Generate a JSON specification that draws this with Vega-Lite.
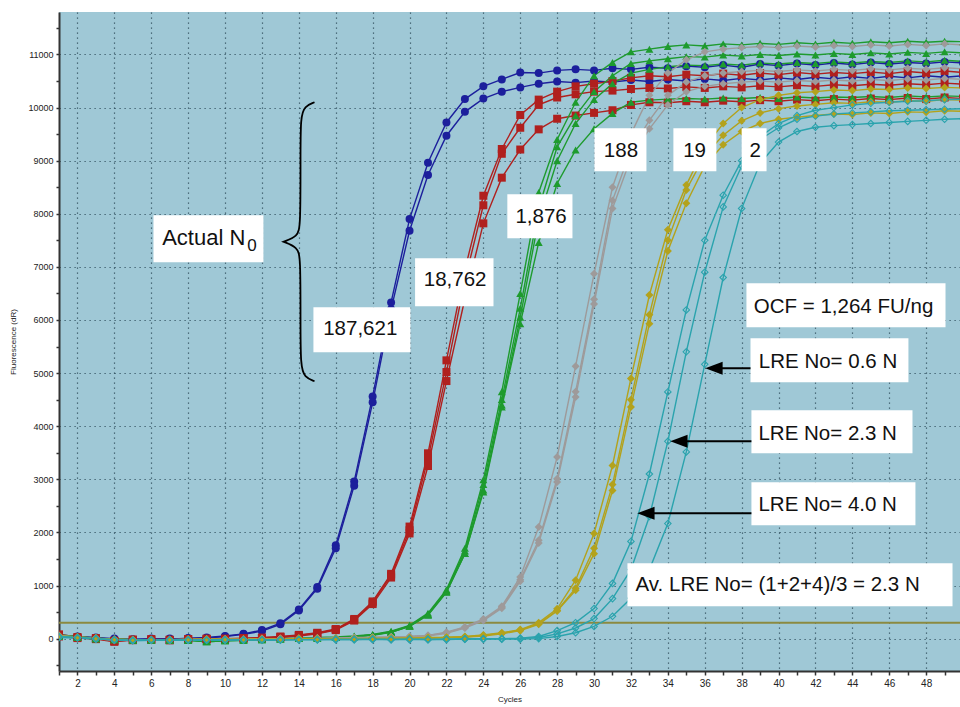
{
"$schema": "https://vega.github.io/schema/vega-lite/v6.json",
"width": 901, "height": 659,
"autosize": {"type": "none"},
"padding": {"left": 59, "top": 12, "right": 0, "bottom": 36},
"background": "white",
"config": {"view": {"fill": "#9fc8d6", "stroke": null}, "font": "Liberation Sans"},
"datasets": {
"curves": [
{"s":"B1","c":1,"v":70},{"s":"B1","c":2,"v":40},{"s":"B1","c":3,"v":20},{"s":"B1","c":4,"v":0},{"s":"B1","c":5,"v":-10},{"s":"B1","c":6,"v":0},{"s":"B1","c":7,"v":-10},{"s":"B1","c":8,"v":10},{"s":"B1","c":9,"v":20},{"s":"B1","c":10,"v":50},{"s":"B1","c":11,"v":90},{"s":"B1","c":12,"v":160},{"s":"B1","c":13,"v":290},{"s":"B1","c":14,"v":550},{"s":"B1","c":15,"v":970},{"s":"B1","c":16,"v":1760},{"s":"B1","c":17,"v":2960},{"s":"B1","c":18,"v":4560},{"s":"B1","c":19,"v":6330},{"s":"B1","c":20,"v":7900},{"s":"B1","c":21,"v":8960},{"s":"B1","c":22,"v":9720},{"s":"B1","c":23,"v":10160},{"s":"B1","c":24,"v":10400},{"s":"B1","c":25,"v":10530},{"s":"B1","c":26,"v":10660},{"s":"B1","c":27,"v":10650},{"s":"B1","c":28,"v":10700},{"s":"B1","c":29,"v":10720},{"s":"B1","c":30,"v":10700},{"s":"B1","c":31,"v":10740},{"s":"B1","c":32,"v":10720},{"s":"B1","c":33,"v":10760},{"s":"B1","c":34,"v":10740},{"s":"B1","c":35,"v":10780},{"s":"B1","c":36,"v":10760},{"s":"B1","c":37,"v":10800},{"s":"B1","c":38,"v":10760},{"s":"B1","c":39,"v":10820},{"s":"B1","c":40,"v":10790},{"s":"B1","c":41,"v":10830},{"s":"B1","c":42,"v":10800},{"s":"B1","c":43,"v":10840},{"s":"B1","c":44,"v":10810},{"s":"B1","c":45,"v":10850},{"s":"B1","c":46,"v":10820},{"s":"B1","c":47,"v":10850},{"s":"B1","c":48,"v":10830},{"s":"B1","c":49,"v":10860},{"s":"B1","c":50,"v":10840},
{"s":"B2","c":1,"v":50},{"s":"B2","c":2,"v":30},{"s":"B2","c":3,"v":10},{"s":"B2","c":4,"v":-10},{"s":"B2","c":5,"v":-20},{"s":"B2","c":6,"v":-10},{"s":"B2","c":7,"v":0},{"s":"B2","c":8,"v":0},{"s":"B2","c":9,"v":10},{"s":"B2","c":10,"v":40},{"s":"B2","c":11,"v":80},{"s":"B2","c":12,"v":140},{"s":"B2","c":13,"v":270},{"s":"B2","c":14,"v":530},{"s":"B2","c":15,"v":940},{"s":"B2","c":16,"v":1700},{"s":"B2","c":17,"v":2880},{"s":"B2","c":18,"v":4450},{"s":"B2","c":19,"v":6200},{"s":"B2","c":20,"v":7680},{"s":"B2","c":21,"v":8730},{"s":"B2","c":22,"v":9470},{"s":"B2","c":23,"v":9920},{"s":"B2","c":24,"v":10170},{"s":"B2","c":25,"v":10300},{"s":"B2","c":26,"v":10380},{"s":"B2","c":27,"v":10450},{"s":"B2","c":28,"v":10490},{"s":"B2","c":29,"v":10470},{"s":"B2","c":30,"v":10500},{"s":"B2","c":31,"v":10480},{"s":"B2","c":32,"v":10520},{"s":"B2","c":33,"v":10490},{"s":"B2","c":34,"v":10530},{"s":"B2","c":35,"v":10500},{"s":"B2","c":36,"v":10540},{"s":"B2","c":37,"v":10510},{"s":"B2","c":38,"v":10550},{"s":"B2","c":39,"v":10520},{"s":"B2","c":40,"v":10560},{"s":"B2","c":41,"v":10530},{"s":"B2","c":42,"v":10570},{"s":"B2","c":43,"v":10540},{"s":"B2","c":44,"v":10580},{"s":"B2","c":45,"v":10550},{"s":"B2","c":46,"v":10590},{"s":"B2","c":47,"v":10560},{"s":"B2","c":48,"v":10600},{"s":"B2","c":49,"v":10570},{"s":"B2","c":50,"v":10600},
{"s":"R1","c":1,"v":80},{"s":"R1","c":2,"v":30},{"s":"R1","c":3,"v":10},{"s":"R1","c":4,"v":-40},{"s":"R1","c":5,"v":-20},{"s":"R1","c":6,"v":-20},{"s":"R1","c":7,"v":-30},{"s":"R1","c":8,"v":-10},{"s":"R1","c":9,"v":-10},{"s":"R1","c":10,"v":0},{"s":"R1","c":11,"v":10},{"s":"R1","c":12,"v":20},{"s":"R1","c":13,"v":40},{"s":"R1","c":14,"v":70},{"s":"R1","c":15,"v":110},{"s":"R1","c":16,"v":180},{"s":"R1","c":17,"v":370},{"s":"R1","c":18,"v":700},{"s":"R1","c":19,"v":1220},{"s":"R1","c":20,"v":2110},{"s":"R1","c":21,"v":3490},{"s":"R1","c":22,"v":5240},{"s":"R1","c":23,"v":6950},{"s":"R1","c":24,"v":8340},{"s":"R1","c":25,"v":9220},{"s":"R1","c":26,"v":9860},{"s":"R1","c":27,"v":10150},{"s":"R1","c":28,"v":10300},{"s":"R1","c":29,"v":10400},{"s":"R1","c":30,"v":10450},{"s":"R1","c":31,"v":10500},{"s":"R1","c":32,"v":10560},{"s":"R1","c":33,"v":10600},{"s":"R1","c":34,"v":10580},{"s":"R1","c":35,"v":10620},{"s":"R1","c":36,"v":10600},{"s":"R1","c":37,"v":10640},{"s":"R1","c":38,"v":10610},{"s":"R1","c":39,"v":10650},{"s":"R1","c":40,"v":10620},{"s":"R1","c":41,"v":10660},{"s":"R1","c":42,"v":10630},{"s":"R1","c":43,"v":10660},{"s":"R1","c":44,"v":10640},{"s":"R1","c":45,"v":10670},{"s":"R1","c":46,"v":10640},{"s":"R1","c":47,"v":10680},{"s":"R1","c":48,"v":10650},{"s":"R1","c":49,"v":10690},{"s":"R1","c":50,"v":10660},
{"s":"R2","c":1,"v":60},{"s":"R2","c":2,"v":20},{"s":"R2","c":3,"v":0},{"s":"R2","c":4,"v":-50},{"s":"R2","c":5,"v":-30},{"s":"R2","c":6,"v":-10},{"s":"R2","c":7,"v":-20},{"s":"R2","c":8,"v":-20},{"s":"R2","c":9,"v":0},{"s":"R2","c":10,"v":-10},{"s":"R2","c":11,"v":0},{"s":"R2","c":12,"v":10},{"s":"R2","c":13,"v":30},{"s":"R2","c":14,"v":60},{"s":"R2","c":15,"v":100},{"s":"R2","c":16,"v":170},{"s":"R2","c":17,"v":350},{"s":"R2","c":18,"v":680},{"s":"R2","c":19,"v":1190},{"s":"R2","c":20,"v":2040},{"s":"R2","c":21,"v":3390},{"s":"R2","c":22,"v":5020},{"s":"R2","c":23,"v":6750},{"s":"R2","c":24,"v":8160},{"s":"R2","c":25,"v":9130},{"s":"R2","c":26,"v":9620},{"s":"R2","c":27,"v":10050},{"s":"R2","c":28,"v":10190},{"s":"R2","c":29,"v":10250},{"s":"R2","c":30,"v":10300},{"s":"R2","c":31,"v":10320},{"s":"R2","c":32,"v":10350},{"s":"R2","c":33,"v":10370},{"s":"R2","c":34,"v":10360},{"s":"R2","c":35,"v":10390},{"s":"R2","c":36,"v":10370},{"s":"R2","c":37,"v":10400},{"s":"R2","c":38,"v":10380},{"s":"R2","c":39,"v":10410},{"s":"R2","c":40,"v":10390},{"s":"R2","c":41,"v":10420},{"s":"R2","c":42,"v":10400},{"s":"R2","c":43,"v":10430},{"s":"R2","c":44,"v":10410},{"s":"R2","c":45,"v":10440},{"s":"R2","c":46,"v":10420},{"s":"R2","c":47,"v":10450},{"s":"R2","c":48,"v":10430},{"s":"R2","c":49,"v":10460},{"s":"R2","c":50,"v":10440},
{"s":"R3","c":1,"v":40},{"s":"R3","c":2,"v":10},{"s":"R3","c":3,"v":-10},{"s":"R3","c":4,"v":-60},{"s":"R3","c":5,"v":-20},{"s":"R3","c":6,"v":-20},{"s":"R3","c":7,"v":-30},{"s":"R3","c":8,"v":-10},{"s":"R3","c":9,"v":-20},{"s":"R3","c":10,"v":-10},{"s":"R3","c":11,"v":0},{"s":"R3","c":12,"v":10},{"s":"R3","c":13,"v":20},{"s":"R3","c":14,"v":50},{"s":"R3","c":15,"v":90},{"s":"R3","c":16,"v":160},{"s":"R3","c":17,"v":340},{"s":"R3","c":18,"v":650},{"s":"R3","c":19,"v":1150},{"s":"R3","c":20,"v":1980},{"s":"R3","c":21,"v":3250},{"s":"R3","c":22,"v":4850},{"s":"R3","c":23,"v":6400},{"s":"R3","c":24,"v":7820},{"s":"R3","c":25,"v":8680},{"s":"R3","c":26,"v":9210},{"s":"R3","c":27,"v":9590},{"s":"R3","c":28,"v":9790},{"s":"R3","c":29,"v":9850},{"s":"R3","c":30,"v":9900},{"s":"R3","c":31,"v":9950},{"s":"R3","c":32,"v":10050},{"s":"R3","c":33,"v":10100},{"s":"R3","c":34,"v":10090},{"s":"R3","c":35,"v":10120},{"s":"R3","c":36,"v":10100},{"s":"R3","c":37,"v":10130},{"s":"R3","c":38,"v":10110},{"s":"R3","c":39,"v":10140},{"s":"R3","c":40,"v":10120},{"s":"R3","c":41,"v":10150},{"s":"R3","c":42,"v":10130},{"s":"R3","c":43,"v":10160},{"s":"R3","c":44,"v":10140},{"s":"R3","c":45,"v":10170},{"s":"R3","c":46,"v":10150},{"s":"R3","c":47,"v":10180},{"s":"R3","c":48,"v":10160},{"s":"R3","c":49,"v":10190},{"s":"R3","c":50,"v":10170},
{"s":"G1","c":1,"v":70},{"s":"G1","c":2,"v":40},{"s":"G1","c":3,"v":10},{"s":"G1","c":4,"v":-10},{"s":"G1","c":5,"v":-20},{"s":"G1","c":6,"v":-20},{"s":"G1","c":7,"v":-30},{"s":"G1","c":8,"v":-20},{"s":"G1","c":9,"v":-50},{"s":"G1","c":10,"v":-30},{"s":"G1","c":11,"v":-20},{"s":"G1","c":12,"v":-10},{"s":"G1","c":13,"v":0},{"s":"G1","c":14,"v":10},{"s":"G1","c":15,"v":20},{"s":"G1","c":16,"v":30},{"s":"G1","c":17,"v":50},{"s":"G1","c":18,"v":80},{"s":"G1","c":19,"v":140},{"s":"G1","c":20,"v":250},{"s":"G1","c":21,"v":480},{"s":"G1","c":22,"v":920},{"s":"G1","c":23,"v":1700},{"s":"G1","c":24,"v":2990},{"s":"G1","c":25,"v":4650},{"s":"G1","c":26,"v":6500},{"s":"G1","c":27,"v":8400},{"s":"G1","c":28,"v":9400},{"s":"G1","c":29,"v":10100},{"s":"G1","c":30,"v":10600},{"s":"G1","c":31,"v":10850},{"s":"G1","c":32,"v":11050},{"s":"G1","c":33,"v":11100},{"s":"G1","c":34,"v":11150},{"s":"G1","c":35,"v":11180},{"s":"G1","c":36,"v":11160},{"s":"G1","c":37,"v":11200},{"s":"G1","c":38,"v":11180},{"s":"G1","c":39,"v":11210},{"s":"G1","c":40,"v":11190},{"s":"G1","c":41,"v":11220},{"s":"G1","c":42,"v":11200},{"s":"G1","c":43,"v":11230},{"s":"G1","c":44,"v":11210},{"s":"G1","c":45,"v":11240},{"s":"G1","c":46,"v":11220},{"s":"G1","c":47,"v":11250},{"s":"G1","c":48,"v":11230},{"s":"G1","c":49,"v":11250},{"s":"G1","c":50,"v":11240},
{"s":"G2","c":1,"v":60},{"s":"G2","c":2,"v":30},{"s":"G2","c":3,"v":0},{"s":"G2","c":4,"v":-20},{"s":"G2","c":5,"v":-30},{"s":"G2","c":6,"v":-20},{"s":"G2","c":7,"v":-20},{"s":"G2","c":8,"v":-30},{"s":"G2","c":9,"v":-60},{"s":"G2","c":10,"v":-40},{"s":"G2","c":11,"v":-30},{"s":"G2","c":12,"v":-20},{"s":"G2","c":13,"v":-10},{"s":"G2","c":14,"v":0},{"s":"G2","c":15,"v":10},{"s":"G2","c":16,"v":20},{"s":"G2","c":17,"v":40},{"s":"G2","c":18,"v":70},{"s":"G2","c":19,"v":130},{"s":"G2","c":20,"v":240},{"s":"G2","c":21,"v":460},{"s":"G2","c":22,"v":900},{"s":"G2","c":23,"v":1650},{"s":"G2","c":24,"v":2900},{"s":"G2","c":25,"v":4500},{"s":"G2","c":26,"v":6220},{"s":"G2","c":27,"v":8100},{"s":"G2","c":28,"v":9260},{"s":"G2","c":29,"v":9850},{"s":"G2","c":30,"v":10300},{"s":"G2","c":31,"v":10600},{"s":"G2","c":32,"v":10830},{"s":"G2","c":33,"v":10880},{"s":"G2","c":34,"v":10920},{"s":"G2","c":35,"v":10960},{"s":"G2","c":36,"v":10950},{"s":"G2","c":37,"v":10990},{"s":"G2","c":38,"v":10970},{"s":"G2","c":39,"v":11000},{"s":"G2","c":40,"v":10980},{"s":"G2","c":41,"v":11010},{"s":"G2","c":42,"v":10990},{"s":"G2","c":43,"v":11020},{"s":"G2","c":44,"v":11000},{"s":"G2","c":45,"v":11030},{"s":"G2","c":46,"v":11010},{"s":"G2","c":47,"v":11040},{"s":"G2","c":48,"v":11020},{"s":"G2","c":49,"v":11050},{"s":"G2","c":50,"v":11030},
{"s":"G3","c":1,"v":50},{"s":"G3","c":2,"v":20},{"s":"G3","c":3,"v":0},{"s":"G3","c":4,"v":-10},{"s":"G3","c":5,"v":-20},{"s":"G3","c":6,"v":-30},{"s":"G3","c":7,"v":-20},{"s":"G3","c":8,"v":-20},{"s":"G3","c":9,"v":-50},{"s":"G3","c":10,"v":-30},{"s":"G3","c":11,"v":-20},{"s":"G3","c":12,"v":-10},{"s":"G3","c":13,"v":-10},{"s":"G3","c":14,"v":0},{"s":"G3","c":15,"v":10},{"s":"G3","c":16,"v":20},{"s":"G3","c":17,"v":40},{"s":"G3","c":18,"v":70},{"s":"G3","c":19,"v":120},{"s":"G3","c":20,"v":230},{"s":"G3","c":21,"v":450},{"s":"G3","c":22,"v":880},{"s":"G3","c":23,"v":1600},{"s":"G3","c":24,"v":2800},{"s":"G3","c":25,"v":4400},{"s":"G3","c":26,"v":6050},{"s":"G3","c":27,"v":7900},{"s":"G3","c":28,"v":9000},{"s":"G3","c":29,"v":9700},{"s":"G3","c":30,"v":10150},{"s":"G3","c":31,"v":10450},{"s":"G3","c":32,"v":10650},{"s":"G3","c":33,"v":10720},{"s":"G3","c":34,"v":10770},{"s":"G3","c":35,"v":10800},{"s":"G3","c":36,"v":10790},{"s":"G3","c":37,"v":10820},{"s":"G3","c":38,"v":10800},{"s":"G3","c":39,"v":10840},{"s":"G3","c":40,"v":10820},{"s":"G3","c":41,"v":10850},{"s":"G3","c":42,"v":10830},{"s":"G3","c":43,"v":10860},{"s":"G3","c":44,"v":10840},{"s":"G3","c":45,"v":10870},{"s":"G3","c":46,"v":10850},{"s":"G3","c":47,"v":10880},{"s":"G3","c":48,"v":10860},{"s":"G3","c":49,"v":10890},{"s":"G3","c":50,"v":10870},
{"s":"G4","c":1,"v":40},{"s":"G4","c":2,"v":20},{"s":"G4","c":3,"v":-10},{"s":"G4","c":4,"v":-20},{"s":"G4","c":5,"v":-30},{"s":"G4","c":6,"v":-20},{"s":"G4","c":7,"v":-30},{"s":"G4","c":8,"v":-30},{"s":"G4","c":9,"v":-60},{"s":"G4","c":10,"v":-40},{"s":"G4","c":11,"v":-30},{"s":"G4","c":12,"v":-20},{"s":"G4","c":13,"v":-10},{"s":"G4","c":14,"v":0},{"s":"G4","c":15,"v":0},{"s":"G4","c":16,"v":20},{"s":"G4","c":17,"v":30},{"s":"G4","c":18,"v":60},{"s":"G4","c":19,"v":120},{"s":"G4","c":20,"v":230},{"s":"G4","c":21,"v":440},{"s":"G4","c":22,"v":870},{"s":"G4","c":23,"v":1600},{"s":"G4","c":24,"v":2760},{"s":"G4","c":25,"v":4360},{"s":"G4","c":26,"v":5930},{"s":"G4","c":27,"v":7460},{"s":"G4","c":28,"v":8570},{"s":"G4","c":29,"v":9200},{"s":"G4","c":30,"v":9600},{"s":"G4","c":31,"v":9890},{"s":"G4","c":32,"v":10100},{"s":"G4","c":33,"v":10140},{"s":"G4","c":34,"v":10160},{"s":"G4","c":35,"v":10170},{"s":"G4","c":36,"v":10160},{"s":"G4","c":37,"v":10180},{"s":"G4","c":38,"v":10170},{"s":"G4","c":39,"v":10190},{"s":"G4","c":40,"v":10170},{"s":"G4","c":41,"v":10200},{"s":"G4","c":42,"v":10180},{"s":"G4","c":43,"v":10200},{"s":"G4","c":44,"v":10190},{"s":"G4","c":45,"v":10210},{"s":"G4","c":46,"v":10190},{"s":"G4","c":47,"v":10220},{"s":"G4","c":48,"v":10200},{"s":"G4","c":49,"v":10220},{"s":"G4","c":50,"v":10210},
{"s":"A1","c":1,"v":60},{"s":"A1","c":2,"v":30},{"s":"A1","c":3,"v":10},{"s":"A1","c":4,"v":-20},{"s":"A1","c":5,"v":-30},{"s":"A1","c":6,"v":-20},{"s":"A1","c":7,"v":-20},{"s":"A1","c":8,"v":-10},{"s":"A1","c":9,"v":-20},{"s":"A1","c":10,"v":-10},{"s":"A1","c":11,"v":-10},{"s":"A1","c":12,"v":0},{"s":"A1","c":13,"v":0},{"s":"A1","c":14,"v":0},{"s":"A1","c":15,"v":10},{"s":"A1","c":16,"v":10},{"s":"A1","c":17,"v":20},{"s":"A1","c":18,"v":20},{"s":"A1","c":19,"v":30},{"s":"A1","c":20,"v":40},{"s":"A1","c":21,"v":60},{"s":"A1","c":22,"v":120},{"s":"A1","c":23,"v":220},{"s":"A1","c":24,"v":370},{"s":"A1","c":25,"v":610},{"s":"A1","c":26,"v":1160},{"s":"A1","c":27,"v":2100},{"s":"A1","c":28,"v":3420},{"s":"A1","c":29,"v":5130},{"s":"A1","c":30,"v":6870},{"s":"A1","c":31,"v":8500},{"s":"A1","c":32,"v":9500},{"s":"A1","c":33,"v":10230},{"s":"A1","c":34,"v":10650},{"s":"A1","c":35,"v":10900},{"s":"A1","c":36,"v":11050},{"s":"A1","c":37,"v":11100},{"s":"A1","c":38,"v":11130},{"s":"A1","c":39,"v":11150},{"s":"A1","c":40,"v":11130},{"s":"A1","c":41,"v":11160},{"s":"A1","c":42,"v":11140},{"s":"A1","c":43,"v":11170},{"s":"A1","c":44,"v":11150},{"s":"A1","c":45,"v":11180},{"s":"A1","c":46,"v":11160},{"s":"A1","c":47,"v":11190},{"s":"A1","c":48,"v":11170},{"s":"A1","c":49,"v":11200},{"s":"A1","c":50,"v":11180},
{"s":"A2","c":1,"v":50},{"s":"A2","c":2,"v":20},{"s":"A2","c":3,"v":0},{"s":"A2","c":4,"v":-30},{"s":"A2","c":5,"v":-30},{"s":"A2","c":6,"v":-20},{"s":"A2","c":7,"v":-30},{"s":"A2","c":8,"v":-20},{"s":"A2","c":9,"v":-10},{"s":"A2","c":10,"v":-20},{"s":"A2","c":11,"v":-10},{"s":"A2","c":12,"v":-10},{"s":"A2","c":13,"v":0},{"s":"A2","c":14,"v":0},{"s":"A2","c":15,"v":0},{"s":"A2","c":16,"v":10},{"s":"A2","c":17,"v":10},{"s":"A2","c":18,"v":20},{"s":"A2","c":19,"v":30},{"s":"A2","c":20,"v":40},{"s":"A2","c":21,"v":60},{"s":"A2","c":22,"v":110},{"s":"A2","c":23,"v":210},{"s":"A2","c":24,"v":350},{"s":"A2","c":25,"v":590},{"s":"A2","c":26,"v":1110},{"s":"A2","c":27,"v":1850},{"s":"A2","c":28,"v":3010},{"s":"A2","c":29,"v":4650},{"s":"A2","c":30,"v":6390},{"s":"A2","c":31,"v":8250},{"s":"A2","c":32,"v":9200},{"s":"A2","c":33,"v":9760},{"s":"A2","c":34,"v":10230},{"s":"A2","c":35,"v":10480},{"s":"A2","c":36,"v":10600},{"s":"A2","c":37,"v":10650},{"s":"A2","c":38,"v":10680},{"s":"A2","c":39,"v":10700},{"s":"A2","c":40,"v":10680},{"s":"A2","c":41,"v":10710},{"s":"A2","c":42,"v":10690},{"s":"A2","c":43,"v":10720},{"s":"A2","c":44,"v":10700},{"s":"A2","c":45,"v":10730},{"s":"A2","c":46,"v":10710},{"s":"A2","c":47,"v":10740},{"s":"A2","c":48,"v":10720},{"s":"A2","c":49,"v":10750},{"s":"A2","c":50,"v":10730},
{"s":"A3","c":1,"v":40},{"s":"A3","c":2,"v":20},{"s":"A3","c":3,"v":0},{"s":"A3","c":4,"v":-20},{"s":"A3","c":5,"v":-20},{"s":"A3","c":6,"v":-30},{"s":"A3","c":7,"v":-20},{"s":"A3","c":8,"v":-20},{"s":"A3","c":9,"v":-10},{"s":"A3","c":10,"v":-10},{"s":"A3","c":11,"v":-20},{"s":"A3","c":12,"v":-10},{"s":"A3","c":13,"v":-10},{"s":"A3","c":14,"v":0},{"s":"A3","c":15,"v":0},{"s":"A3","c":16,"v":10},{"s":"A3","c":17,"v":10},{"s":"A3","c":18,"v":20},{"s":"A3","c":19,"v":20},{"s":"A3","c":20,"v":30},{"s":"A3","c":21,"v":50},{"s":"A3","c":22,"v":100},{"s":"A3","c":23,"v":200},{"s":"A3","c":24,"v":340},{"s":"A3","c":25,"v":570},{"s":"A3","c":26,"v":1080},{"s":"A3","c":27,"v":1800},{"s":"A3","c":28,"v":2950},{"s":"A3","c":29,"v":4550},{"s":"A3","c":30,"v":6300},{"s":"A3","c":31,"v":8100},{"s":"A3","c":32,"v":9050},{"s":"A3","c":33,"v":9600},{"s":"A3","c":34,"v":10050},{"s":"A3","c":35,"v":10300},{"s":"A3","c":36,"v":10400},{"s":"A3","c":37,"v":10450},{"s":"A3","c":38,"v":10480},{"s":"A3","c":39,"v":10500},{"s":"A3","c":40,"v":10480},{"s":"A3","c":41,"v":10510},{"s":"A3","c":42,"v":10490},{"s":"A3","c":43,"v":10520},{"s":"A3","c":44,"v":10500},{"s":"A3","c":45,"v":10530},{"s":"A3","c":46,"v":10510},{"s":"A3","c":47,"v":10540},{"s":"A3","c":48,"v":10520},{"s":"A3","c":49,"v":10550},{"s":"A3","c":50,"v":10530},
{"s":"O1","c":1,"v":50},{"s":"O1","c":2,"v":30},{"s":"O1","c":3,"v":10},{"s":"O1","c":4,"v":-10},{"s":"O1","c":5,"v":-20},{"s":"O1","c":6,"v":-20},{"s":"O1","c":7,"v":-20},{"s":"O1","c":8,"v":-10},{"s":"O1","c":9,"v":-10},{"s":"O1","c":10,"v":-10},{"s":"O1","c":11,"v":-20},{"s":"O1","c":12,"v":-10},{"s":"O1","c":13,"v":-10},{"s":"O1","c":14,"v":-10},{"s":"O1","c":15,"v":0},{"s":"O1","c":16,"v":0},{"s":"O1","c":17,"v":0},{"s":"O1","c":18,"v":0},{"s":"O1","c":19,"v":10},{"s":"O1","c":20,"v":10},{"s":"O1","c":21,"v":20},{"s":"O1","c":22,"v":20},{"s":"O1","c":23,"v":40},{"s":"O1","c":24,"v":70},{"s":"O1","c":25,"v":110},{"s":"O1","c":26,"v":170},{"s":"O1","c":27,"v":300},{"s":"O1","c":28,"v":560},{"s":"O1","c":29,"v":1100},{"s":"O1","c":30,"v":1980},{"s":"O1","c":31,"v":3260},{"s":"O1","c":32,"v":4900},{"s":"O1","c":33,"v":6470},{"s":"O1","c":34,"v":7700},{"s":"O1","c":35,"v":8540},{"s":"O1","c":36,"v":9250},{"s":"O1","c":37,"v":9700},{"s":"O1","c":38,"v":10000},{"s":"O1","c":39,"v":10150},{"s":"O1","c":40,"v":10230},{"s":"O1","c":41,"v":10280},{"s":"O1","c":42,"v":10300},{"s":"O1","c":43,"v":10330},{"s":"O1","c":44,"v":10320},{"s":"O1","c":45,"v":10350},{"s":"O1","c":46,"v":10340},{"s":"O1","c":47,"v":10370},{"s":"O1","c":48,"v":10360},{"s":"O1","c":49,"v":10380},{"s":"O1","c":50,"v":10370},
{"s":"O2","c":1,"v":40},{"s":"O2","c":2,"v":20},{"s":"O2","c":3,"v":0},{"s":"O2","c":4,"v":-20},{"s":"O2","c":5,"v":-30},{"s":"O2","c":6,"v":-20},{"s":"O2","c":7,"v":-30},{"s":"O2","c":8,"v":-20},{"s":"O2","c":9,"v":-10},{"s":"O2","c":10,"v":-20},{"s":"O2","c":11,"v":-10},{"s":"O2","c":12,"v":-20},{"s":"O2","c":13,"v":-10},{"s":"O2","c":14,"v":0},{"s":"O2","c":15,"v":-10},{"s":"O2","c":16,"v":0},{"s":"O2","c":17,"v":0},{"s":"O2","c":18,"v":10},{"s":"O2","c":19,"v":0},{"s":"O2","c":20,"v":10},{"s":"O2","c":21,"v":10},{"s":"O2","c":22,"v":20},{"s":"O2","c":23,"v":30},{"s":"O2","c":24,"v":60},{"s":"O2","c":25,"v":100},{"s":"O2","c":26,"v":160},{"s":"O2","c":27,"v":280},{"s":"O2","c":28,"v":530},{"s":"O2","c":29,"v":950},{"s":"O2","c":30,"v":1700},{"s":"O2","c":31,"v":2900},{"s":"O2","c":32,"v":4500},{"s":"O2","c":33,"v":6100},{"s":"O2","c":34,"v":7500},{"s":"O2","c":35,"v":8450},{"s":"O2","c":36,"v":9100},{"s":"O2","c":37,"v":9480},{"s":"O2","c":38,"v":9750},{"s":"O2","c":39,"v":9900},{"s":"O2","c":40,"v":9980},{"s":"O2","c":41,"v":10030},{"s":"O2","c":42,"v":10060},{"s":"O2","c":43,"v":10090},{"s":"O2","c":44,"v":10080},{"s":"O2","c":45,"v":10110},{"s":"O2","c":46,"v":10100},{"s":"O2","c":47,"v":10130},{"s":"O2","c":48,"v":10120},{"s":"O2","c":49,"v":10150},{"s":"O2","c":50,"v":10140},
{"s":"O3","c":1,"v":30},{"s":"O3","c":2,"v":20},{"s":"O3","c":3,"v":0},{"s":"O3","c":4,"v":-10},{"s":"O3","c":5,"v":-20},{"s":"O3","c":6,"v":-30},{"s":"O3","c":7,"v":-20},{"s":"O3","c":8,"v":-20},{"s":"O3","c":9,"v":-20},{"s":"O3","c":10,"v":-10},{"s":"O3","c":11,"v":-20},{"s":"O3","c":12,"v":-10},{"s":"O3","c":13,"v":-20},{"s":"O3","c":14,"v":-10},{"s":"O3","c":15,"v":-10},{"s":"O3","c":16,"v":0},{"s":"O3","c":17,"v":-10},{"s":"O3","c":18,"v":0},{"s":"O3","c":19,"v":0},{"s":"O3","c":20,"v":10},{"s":"O3","c":21,"v":10},{"s":"O3","c":22,"v":20},{"s":"O3","c":23,"v":30},{"s":"O3","c":24,"v":50},{"s":"O3","c":25,"v":90},{"s":"O3","c":26,"v":150},{"s":"O3","c":27,"v":270},{"s":"O3","c":28,"v":520},{"s":"O3","c":29,"v":910},{"s":"O3","c":30,"v":1600},{"s":"O3","c":31,"v":2790},{"s":"O3","c":32,"v":4360},{"s":"O3","c":33,"v":5930},{"s":"O3","c":34,"v":7300},{"s":"O3","c":35,"v":8200},{"s":"O3","c":36,"v":8900},{"s":"O3","c":37,"v":9300},{"s":"O3","c":38,"v":9550},{"s":"O3","c":39,"v":9700},{"s":"O3","c":40,"v":9780},{"s":"O3","c":41,"v":9820},{"s":"O3","c":42,"v":9850},{"s":"O3","c":43,"v":9880},{"s":"O3","c":44,"v":9870},{"s":"O3","c":45,"v":9900},{"s":"O3","c":46,"v":9890},{"s":"O3","c":47,"v":9920},{"s":"O3","c":48,"v":9910},{"s":"O3","c":49,"v":9940},{"s":"O3","c":50,"v":9930},
{"s":"T1","c":1,"v":40},{"s":"T1","c":2,"v":20},{"s":"T1","c":3,"v":0},{"s":"T1","c":4,"v":-20},{"s":"T1","c":5,"v":-30},{"s":"T1","c":6,"v":-30},{"s":"T1","c":7,"v":-20},{"s":"T1","c":8,"v":-30},{"s":"T1","c":9,"v":-20},{"s":"T1","c":10,"v":-20},{"s":"T1","c":11,"v":-20},{"s":"T1","c":12,"v":-20},{"s":"T1","c":13,"v":-20},{"s":"T1","c":14,"v":-20},{"s":"T1","c":15,"v":-20},{"s":"T1","c":16,"v":-10},{"s":"T1","c":17,"v":-10},{"s":"T1","c":18,"v":-10},{"s":"T1","c":19,"v":-10},{"s":"T1","c":20,"v":-10},{"s":"T1","c":21,"v":-10},{"s":"T1","c":22,"v":-10},{"s":"T1","c":23,"v":0},{"s":"T1","c":24,"v":0},{"s":"T1","c":25,"v":0},{"s":"T1","c":26,"v":10},{"s":"T1","c":27,"v":40},{"s":"T1","c":28,"v":150},{"s":"T1","c":29,"v":300},{"s":"T1","c":30,"v":565},{"s":"T1","c":31,"v":1040},{"s":"T1","c":32,"v":1830},{"s":"T1","c":33,"v":3100},{"s":"T1","c":34,"v":4645},{"s":"T1","c":35,"v":6190},{"s":"T1","c":36,"v":7500},{"s":"T1","c":37,"v":8350},{"s":"T1","c":38,"v":9000},{"s":"T1","c":39,"v":9450},{"s":"T1","c":40,"v":9700},{"s":"T1","c":41,"v":9850},{"s":"T1","c":42,"v":9950},{"s":"T1","c":43,"v":10000},{"s":"T1","c":44,"v":10050},{"s":"T1","c":45,"v":10080},{"s":"T1","c":46,"v":10100},{"s":"T1","c":47,"v":10120},{"s":"T1","c":48,"v":10130},{"s":"T1","c":49,"v":10150},{"s":"T1","c":50,"v":10160},
{"s":"T2","c":1,"v":30},{"s":"T2","c":2,"v":20},{"s":"T2","c":3,"v":0},{"s":"T2","c":4,"v":-30},{"s":"T2","c":5,"v":-30},{"s":"T2","c":6,"v":-20},{"s":"T2","c":7,"v":-30},{"s":"T2","c":8,"v":-20},{"s":"T2","c":9,"v":-30},{"s":"T2","c":10,"v":-20},{"s":"T2","c":11,"v":-30},{"s":"T2","c":12,"v":-20},{"s":"T2","c":13,"v":-20},{"s":"T2","c":14,"v":-20},{"s":"T2","c":15,"v":-20},{"s":"T2","c":16,"v":-20},{"s":"T2","c":17,"v":-20},{"s":"T2","c":18,"v":-10},{"s":"T2","c":19,"v":-20},{"s":"T2","c":20,"v":-10},{"s":"T2","c":21,"v":-20},{"s":"T2","c":22,"v":-10},{"s":"T2","c":23,"v":-10},{"s":"T2","c":24,"v":-10},{"s":"T2","c":25,"v":0},{"s":"T2","c":26,"v":0},{"s":"T2","c":27,"v":20},{"s":"T2","c":28,"v":90},{"s":"T2","c":29,"v":200},{"s":"T2","c":30,"v":377},{"s":"T2","c":31,"v":753},{"s":"T2","c":32,"v":1300},{"s":"T2","c":33,"v":2300},{"s":"T2","c":34,"v":3715},{"s":"T2","c":35,"v":5400},{"s":"T2","c":36,"v":6900},{"s":"T2","c":37,"v":8130},{"s":"T2","c":38,"v":8900},{"s":"T2","c":39,"v":9400},{"s":"T2","c":40,"v":9620},{"s":"T2","c":41,"v":9780},{"s":"T2","c":42,"v":9840},{"s":"T2","c":43,"v":9880},{"s":"T2","c":44,"v":9900},{"s":"T2","c":45,"v":9920},{"s":"T2","c":46,"v":9940},{"s":"T2","c":47,"v":9950},{"s":"T2","c":48,"v":9960},{"s":"T2","c":49,"v":9970},{"s":"T2","c":50,"v":9980},
{"s":"T3","c":1,"v":20},{"s":"T3","c":2,"v":10},{"s":"T3","c":3,"v":-10},{"s":"T3","c":4,"v":-20},{"s":"T3","c":5,"v":-40},{"s":"T3","c":6,"v":-30},{"s":"T3","c":7,"v":-30},{"s":"T3","c":8,"v":-30},{"s":"T3","c":9,"v":-30},{"s":"T3","c":10,"v":-30},{"s":"T3","c":11,"v":-20},{"s":"T3","c":12,"v":-30},{"s":"T3","c":13,"v":-30},{"s":"T3","c":14,"v":-20},{"s":"T3","c":15,"v":-20},{"s":"T3","c":16,"v":-20},{"s":"T3","c":17,"v":-20},{"s":"T3","c":18,"v":-20},{"s":"T3","c":19,"v":-20},{"s":"T3","c":20,"v":-20},{"s":"T3","c":21,"v":-20},{"s":"T3","c":22,"v":-20},{"s":"T3","c":23,"v":-10},{"s":"T3","c":24,"v":-10},{"s":"T3","c":25,"v":-10},{"s":"T3","c":26,"v":-10},{"s":"T3","c":27,"v":0},{"s":"T3","c":28,"v":40},{"s":"T3","c":29,"v":110},{"s":"T3","c":30,"v":230},{"s":"T3","c":31,"v":420},{"s":"T3","c":32,"v":760},{"s":"T3","c":33,"v":1300},{"s":"T3","c":34,"v":2166},{"s":"T3","c":35,"v":3515},{"s":"T3","c":36,"v":5166},{"s":"T3","c":37,"v":6800},{"s":"T3","c":38,"v":8100},{"s":"T3","c":39,"v":8950},{"s":"T3","c":40,"v":9350},{"s":"T3","c":41,"v":9550},{"s":"T3","c":42,"v":9630},{"s":"T3","c":43,"v":9660},{"s":"T3","c":44,"v":9680},{"s":"T3","c":45,"v":9700},{"s":"T3","c":46,"v":9720},{"s":"T3","c":47,"v":9740},{"s":"T3","c":48,"v":9760},{"s":"T3","c":49,"v":9780},{"s":"T3","c":50,"v":9790}
],
"boxes": [
{"x1":6.12,"x2":12.08,"y1":7087,"y2":7972},
{"x1":14.79,"x2":20.05,"y1":5392,"y2":6240},
{"x1":20.3,"x2":24.55,"y1":6258,"y2":7162},
{"x1":25.3,"x2":28.83,"y1":7540,"y2":8370},
{"x1":30.02,"x2":32.84,"y1":8800,"y2":9610},
{"x1":34.3,"x2":36.63,"y1":8800,"y2":9610},
{"x1":38.0,"x2":39.35,"y1":8800,"y2":9610},
{"x1":38.26,"x2":49.05,"y1":5863,"y2":6691},
{"x1":38.48,"x2":47.04,"y1":4827,"y2":5655},
{"x1":38.53,"x2":47.26,"y1":3490,"y2":4300},
{"x1":38.53,"x2":47.42,"y1":2134,"y2":2944},
{"x1":31.81,"x2":49.43,"y1":608,"y2":1418}
],
"labels": [
{"t":"187,621","x":15.32,"y":5825},
{"t":"18,762","x":20.77,"y":6748},
{"t":"1,876","x":25.74,"y":7940},
{"t":"188","x":30.53,"y":9190},
{"t":"19","x":34.83,"y":9190},
{"t":"2","x":38.43,"y":9190},
{"t":"OCF = 1,264 FU/ng","x":38.66,"y":6245},
{"t":"LRE No= 0.6 N","x":38.93,"y":5209},
{"t":"LRE No= 2.3 N","x":38.91,"y":3861},
{"t":"LRE No= 4.0 N","x":38.91,"y":2524},
{"t":"Av. LRE No= (1+2+4)/3 = 2.3 N","x":32.25,"y":1004}
],
"arrows": [
{"x1":38.48,"x2":36.5,"y":5090},
{"x1":38.53,"x2":34.6,"y":3716},
{"x1":38.53,"x2":32.81,"y":2360}
],
"brace": [
{"i":1,"x":14.85,"y":10100},{"i":2,"x":14.31,"y":10025},{"i":3,"x":14.09,"y":9836},{"i":4,"x":14.09,"y":9000},{"i":5,"x":14.09,"y":7765},{"i":6,"x":13.93,"y":7576},{"i":7,"x":13.17,"y":7473},{"i":8,"x":13.17,"y":7473},{"i":9,"x":13.17,"y":7473},{"i":10,"x":13.93,"y":7369},{"i":11,"x":14.09,"y":7181},{"i":12,"x":14.09,"y":6000},{"i":13,"x":14.09,"y":5128},{"i":14,"x":14.31,"y":4921},{"i":15,"x":14.85,"y":4846}
]
},
"layer": [
{
"data": {"values": [{"thr": 300}]},
"mark": {"type": "rule", "color": "#8b8a40", "strokeWidth": 2},
"encoding": {
"y": {"field": "thr", "type": "quantitative", "scale": {"domain": [-610, 11800], "nice": false, "zero": false},
"axis": {"title": "Fluorescence (dR)", "tickCount": 200, "values": [-500,0,500,1000,1500,2000,2500,3000,3500,4000,4500,5000,5500,6000,6500,7000,7500,8000,8500,9000,9500,10000,10500,11000,11500],
"labelExpr": "datum.value % 1000 === 0 ? datum.label : ''", "format": "d", "labelOverlap": false,
"grid": true, "gridColor": "#21404f", "gridDash": [1.2, 3.8], "gridWidth": 1.2,
"gridOpacity": {"condition": {"test": "datum.value % 1000 === 0", "value": 0.85}, "value": 0},
"domainColor": "#333333", "domainWidth": 2, "tickColor": "#333333", "tickSize": 3, "tickWidth": 1.5,
"labelFontSize": 9, "labelColor": "#222222", "labelPadding": 3, "labelFont": "Liberation Sans",
"titleFontSize": 8, "titleFontWeight": "normal", "titleColor": "#222222", "titlePadding": 10, "titleFont": "Liberation Sans"}}
}
},
{
"data": {"name": "curves"},
"mark": {"type": "line", "strokeWidth": 1.4, "clip": true},
"encoding": {
"x": {"field": "c", "type": "quantitative", "scale": {"domain": [1, 49.835], "nice": false, "zero": false},
"axis": {"title": "Cycles", "tickCount": 200, "format": "d", "values": [1,2,3,4,5,6,7,8,9,10,11,12,13,14,15,16,17,18,19,20,21,22,23,24,25,26,27,28,29,30,31,32,33,34,35,36,37,38,39,40,41,42,43,44,45,46,47,48,49],
"labelExpr": "datum.value % 2 === 0 ? datum.label : ''", "labelOverlap": false,
"grid": true, "gridColor": "#21404f", "gridDash": [1.2, 3.8], "gridWidth": 1.2,
"gridOpacity": {"condition": {"test": "datum.value % 2 === 0", "value": 0.85}, "value": 0},
"domainColor": "#333333", "domainWidth": 2, "tickColor": "#333333", "tickSize": 4, "tickWidth": 1.5,
"labelFontSize": 10, "labelColor": "#222222", "labelPadding": 3, "labelFont": "Liberation Sans",
"titleFontSize": 8, "titleFontWeight": "normal", "titleColor": "#222222", "titlePadding": 7, "titleFont": "Liberation Sans"}},
"y": {"field": "v", "type": "quantitative", "scale": {"domain": [-610, 11800], "nice": false, "zero": false}},
"color": {"field": "s", "type": "nominal", "legend": null,
"scale": {"domain": ["B1","B2","R1","R2","R3","G1","G2","G3","G4","A1","A2","A3","O1","O2","O3","T1","T2","T3"],
"range": ["#1c1f9c","#1c1f9c","#b0201e","#b0201e","#b0201e","#1e9b2e","#1e9b2e","#1e9b2e","#1e9b2e","#9e9a9a","#9e9a9a","#9e9a9a","#b3a21c","#b3a21c","#b3a21c","#2aa3ad","#2aa3ad","#2aa3ad"]}}
}
},
{
"data": {"name": "curves"},
"transform": [{"filter": "datum.s[0] !== 'T'"}],
"mark": {"type": "point", "filled": true, "opacity": 1, "clip": true},
"encoding": {
"x": {"field": "c", "type": "quantitative", "scale": {"domain": [1, 49.835], "nice": false, "zero": false}},
"y": {"field": "v", "type": "quantitative", "scale": {"domain": [-610, 11800], "nice": false, "zero": false}},
"color": {"field": "s", "type": "nominal", "legend": null},
"shape": {"field": "s", "type": "nominal", "legend": null,
"scale": {"domain": ["B1","B2","R1","R2","R3","G1","G2","G3","G4","A1","A2","A3","O1","O2","O3"],
"range": ["circle","circle","square","square","square","triangle-up","triangle-up","triangle-up","triangle-up","diamond","diamond","diamond","diamond","diamond","diamond"]}},
"size": {"field": "s", "type": "nominal", "legend": null,
"scale": {"domain": ["B1","B2","R1","R2","R3","G1","G2","G3","G4","A1","A2","A3","O1","O2","O3"],
"range": [64,64,55,55,55,55,55,55,55,75,75,75,36,36,36]}}
}
},
{
"data": {"name": "curves"},
"transform": [{"filter": "datum.s[0] === 'T'"}],
"mark": {"type": "point", "filled": false, "shape": "diamond", "size": 42, "strokeWidth": 1.1, "color": "#2aa3ad", "opacity": 1, "clip": true},
"encoding": {
"x": {"field": "c", "type": "quantitative", "scale": {"domain": [1, 49.835], "nice": false, "zero": false}},
"y": {"field": "v", "type": "quantitative", "scale": {"domain": [-610, 11800], "nice": false, "zero": false}}
}
},
{
"data": {"name": "boxes"},
"mark": {"type": "rect", "fill": "white"},
"encoding": {
"x": {"field": "x1", "type": "quantitative", "scale": {"domain": [1, 49.835], "nice": false, "zero": false}},
"x2": {"field": "x2"},
"y": {"field": "y1", "type": "quantitative", "scale": {"domain": [-610, 11800], "nice": false, "zero": false}},
"y2": {"field": "y2"}
}
},
{
"data": {"name": "labels"},
"mark": {"type": "text", "align": "left", "baseline": "middle", "fontSize": 20.5, "font": "Liberation Sans", "color": "#111111"},
"encoding": {
"x": {"field": "x", "type": "quantitative", "scale": {"domain": [1, 49.835], "nice": false, "zero": false}},
"y": {"field": "y", "type": "quantitative", "scale": {"domain": [-610, 11800], "nice": false, "zero": false}},
"text": {"field": "t"}
}
},
{
"data": {"values": [{"t": "Actual N", "x": 6.59, "y": 7539}]},
"mark": {"type": "text", "align": "left", "baseline": "middle", "fontSize": 22, "font": "Liberation Sans", "color": "#111111"},
"encoding": {
"x": {"field": "x", "type": "quantitative", "scale": {"domain": [1, 49.835], "nice": false, "zero": false}},
"y": {"field": "y", "type": "quantitative", "scale": {"domain": [-610, 11800], "nice": false, "zero": false}},
"text": {"field": "t"}
}
},
{
"data": {"values": [{"t": "0", "x": 11.2, "y": 7400}]},
"mark": {"type": "text", "align": "left", "baseline": "middle", "fontSize": 17, "font": "Liberation Sans", "color": "#111111"},
"encoding": {
"x": {"field": "x", "type": "quantitative", "scale": {"domain": [1, 49.835], "nice": false, "zero": false}},
"y": {"field": "y", "type": "quantitative", "scale": {"domain": [-610, 11800], "nice": false, "zero": false}},
"text": {"field": "t"}
}
},
{
"data": {"name": "arrows"},
"mark": {"type": "rule", "color": "black", "strokeWidth": 2},
"encoding": {
"x": {"field": "x1", "type": "quantitative", "scale": {"domain": [1, 49.835], "nice": false, "zero": false}},
"x2": {"field": "x2"},
"y": {"field": "y", "type": "quantitative", "scale": {"domain": [-610, 11800], "nice": false, "zero": false}}
}
},
{
"data": {"name": "arrows"},
"mark": {"type": "point", "shape": "M -1 0 L 1 -0.75 L 1 0.75 Z", "filled": true, "color": "black", "opacity": 1, "size": 300},
"encoding": {
"x": {"field": "x2", "type": "quantitative", "scale": {"domain": [1, 49.835], "nice": false, "zero": false}},
"y": {"field": "y", "type": "quantitative", "scale": {"domain": [-610, 11800], "nice": false, "zero": false}}
}
},
{
"data": {"name": "brace"},
"mark": {"type": "line", "color": "black", "strokeWidth": 1.8, "interpolate": "basis"},
"encoding": {
"x": {"field": "x", "type": "quantitative", "scale": {"domain": [1, 49.835], "nice": false, "zero": false}},
"y": {"field": "y", "type": "quantitative", "scale": {"domain": [-610, 11800], "nice": false, "zero": false}},
"order": {"field": "i", "type": "quantitative"}
}
}
]
}
